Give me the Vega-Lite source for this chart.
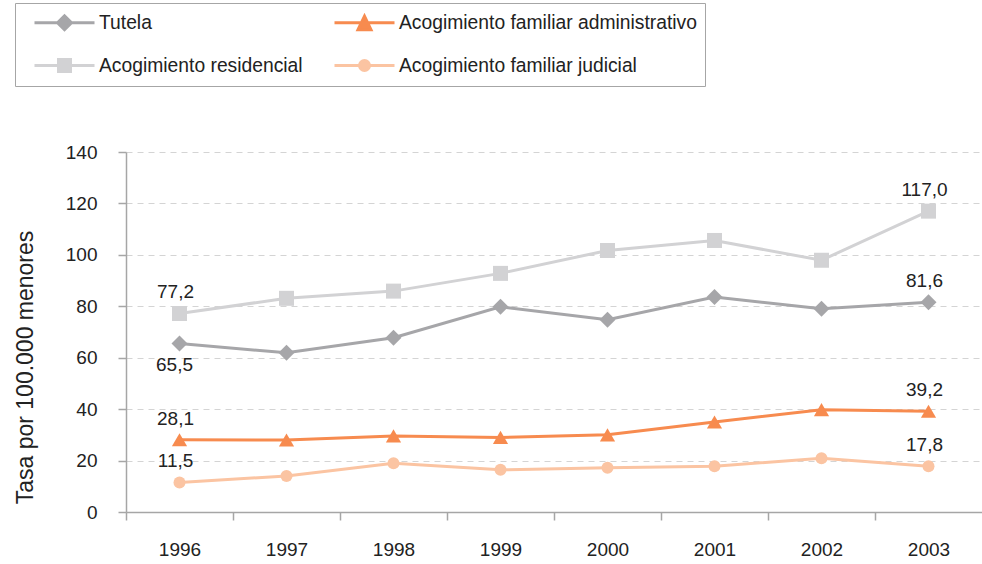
{
  "$schema": "https://vega.github.io/schema/vega-lite/v6.json",
  "width": 856,
  "height": 360,
  "autosize": {"type": "none"},
  "padding": {"left": 126, "top": 152, "right": 0, "bottom": 52},
  "config": {
    "font": "Liberation Sans",
    "view": {"stroke": null},
    "locale": {"number": {"decimal": ",", "thousands": ".", "grouping": [3], "currency": ["", " €"]}}
  },
  "data": {
    "values": [
      {"year": "1996", "serie": "Tutela", "value": 65.5},
      {"year": "1997", "serie": "Tutela", "value": 61.9},
      {"year": "1998", "serie": "Tutela", "value": 67.8},
      {"year": "1999", "serie": "Tutela", "value": 79.8},
      {"year": "2000", "serie": "Tutela", "value": 74.8},
      {"year": "2001", "serie": "Tutela", "value": 83.6},
      {"year": "2002", "serie": "Tutela", "value": 79.0},
      {"year": "2003", "serie": "Tutela", "value": 81.6},
      {"year": "1996", "serie": "Acogimiento residencial", "value": 77.2},
      {"year": "1997", "serie": "Acogimiento residencial", "value": 83.1},
      {"year": "1998", "serie": "Acogimiento residencial", "value": 85.9},
      {"year": "1999", "serie": "Acogimiento residencial", "value": 92.8},
      {"year": "2000", "serie": "Acogimiento residencial", "value": 101.7},
      {"year": "2001", "serie": "Acogimiento residencial", "value": 105.6},
      {"year": "2002", "serie": "Acogimiento residencial", "value": 97.9},
      {"year": "2003", "serie": "Acogimiento residencial", "value": 117.0},
      {"year": "1996", "serie": "Acogimiento familiar administrativo", "value": 28.1},
      {"year": "1997", "serie": "Acogimiento familiar administrativo", "value": 28.0},
      {"year": "1998", "serie": "Acogimiento familiar administrativo", "value": 29.6},
      {"year": "1999", "serie": "Acogimiento familiar administrativo", "value": 29.0},
      {"year": "2000", "serie": "Acogimiento familiar administrativo", "value": 30.0},
      {"year": "2001", "serie": "Acogimiento familiar administrativo", "value": 35.0},
      {"year": "2002", "serie": "Acogimiento familiar administrativo", "value": 39.8},
      {"year": "2003", "serie": "Acogimiento familiar administrativo", "value": 39.2},
      {"year": "1996", "serie": "Acogimiento familiar judicial", "value": 11.5},
      {"year": "1997", "serie": "Acogimiento familiar judicial", "value": 14.0},
      {"year": "1998", "serie": "Acogimiento familiar judicial", "value": 19.0},
      {"year": "1999", "serie": "Acogimiento familiar judicial", "value": 16.4},
      {"year": "2000", "serie": "Acogimiento familiar judicial", "value": 17.2},
      {"year": "2001", "serie": "Acogimiento familiar judicial", "value": 17.8},
      {"year": "2002", "serie": "Acogimiento familiar judicial", "value": 20.9},
      {"year": "2003", "serie": "Acogimiento familiar judicial", "value": 17.8}
    ]
  },
  "encoding": {
    "x": {
      "field": "year", "type": "nominal", "title": null,
      "scale": {"type": "point", "padding": 0.5},
      "axis": {
        "labelAngle": 0, "labelFontSize": 19, "labelColor": "#222222", "labelPadding": 20,
        "domainColor": "#a6a6a6", "domainWidth": 1.5, "tickColor": "#a6a6a6", "tickWidth": 1.5,
        "tickSize": 8, "tickOffset": -53.5, "labelOffset": 53.5, "grid": false
      }
    },
    "y": {
      "field": "value", "type": "quantitative",
      "title": "Tasa por 100.000 menores",
      "scale": {"domain": [0, 140], "nice": false},
      "axis": {
        "values": [0, 20, 40, 60, 80, 100, 120, 140],
        "labelFontSize": 19, "labelColor": "#222222", "labelPadding": 21,
        "domainColor": "#a6a6a6", "domainWidth": 1.5, "tickColor": "#a6a6a6", "tickWidth": 1.5, "tickSize": 8,
        "grid": true, "gridColor": "#d4d4d4", "gridDash": [6, 5], "gridWidth": 1,
        "titleFontSize": 23, "titleFontWeight": "normal", "titleColor": "#222222", "titlePadding": 28,
        "titleY": 215
      }
    }
  },
  "layer": [
    {
      "mark": {"type": "line", "strokeWidth": 3},
      "encoding": {
        "color": {
          "field": "serie", "type": "nominal",
          "scale": {
            "domain": ["Tutela", "Acogimiento residencial", "Acogimiento familiar administrativo", "Acogimiento familiar judicial"],
            "range": ["#a6a6a9", "#d2d2d4", "#f78b4f", "#fbc4a2"]
          },
          "legend": {
            "title": null, "orient": "none", "legendX": -111, "legendY": -149,
            "columns": 2, "columnPadding": 20, "rowPadding": 17,
            "padding": 8, "strokeColor": "#a6a6a6", "fillColor": "white",
            "symbolSize": 400, "symbolStrokeWidth": 3, "labelOffset": 53, "labelLimit": 500,
            "labelFontSize": 19.3, "labelColor": "#222222",
            "encode": {
              "symbols": {
                "update": {
                  "fill": {"scale": "color", "field": "value"},
                  "stroke": {"scale": "color", "field": "value"},
                  "strokeWidth": {"value": 3},
                  "shape": {"signal": "datum.value === 'Tutela' ? 'M0,0H6M2.3,0L3,-0.7L3.7,0L3,0.7Z' : datum.value === 'Acogimiento residencial' ? 'M0,0H6M2.4,-0.6H3.6V0.6H2.4Z' : datum.value === 'Acogimiento familiar administrativo' ? 'M0,0H6M2.35,0.7L3,-0.65L3.65,0.7Z' : 'M0,0H6M2.5,0A0.5,0.5,0,1,1,3.5,0A0.5,0.5,0,1,1,2.5,0Z'"}
                }
              }
            }
          }
        }
      }
    },
    {
      "transform": [{"filter": "datum.serie === 'Tutela'"}],
      "mark": {"type": "point", "filled": true, "opacity": 1, "shape": "diamond", "size": 256},
      "encoding": {"color": {"field": "serie", "type": "nominal"}}
    },
    {
      "transform": [{"filter": "datum.serie === 'Acogimiento residencial'"}],
      "mark": {"type": "point", "filled": true, "opacity": 1, "shape": "square", "size": 225},
      "encoding": {"color": {"field": "serie", "type": "nominal"}}
    },
    {
      "transform": [{"filter": "datum.serie === 'Acogimiento familiar administrativo'"}],
      "mark": {"type": "point", "filled": true, "opacity": 1, "shape": "triangle-up", "size": 230},
      "encoding": {"color": {"field": "serie", "type": "nominal"}}
    },
    {
      "transform": [{"filter": "datum.serie === 'Acogimiento familiar judicial'"}],
      "mark": {"type": "point", "filled": true, "opacity": 1, "shape": "circle", "size": 144},
      "encoding": {"color": {"field": "serie", "type": "nominal"}}
    },
    {
      "transform": [
        {"filter": "(datum.year === '1996' || datum.year === '2003') && !(datum.year === '1996' && datum.serie === 'Tutela')"}
      ],
      "mark": {"type": "text", "fontSize": 19, "color": "#222222", "baseline": "alphabetic", "dy": -15, "dx": -4},
      "encoding": {"text": {"field": "value", "type": "quantitative", "format": ".1f"}}
    },
    {
      "transform": [
        {"filter": "datum.year === '1996' && datum.serie === 'Tutela'"}
      ],
      "mark": {"type": "text", "fontSize": 19, "color": "#222222", "baseline": "alphabetic", "dy": 27, "dx": -5},
      "encoding": {"text": {"field": "value", "type": "quantitative", "format": ".1f"}}
    }
  ]
}
